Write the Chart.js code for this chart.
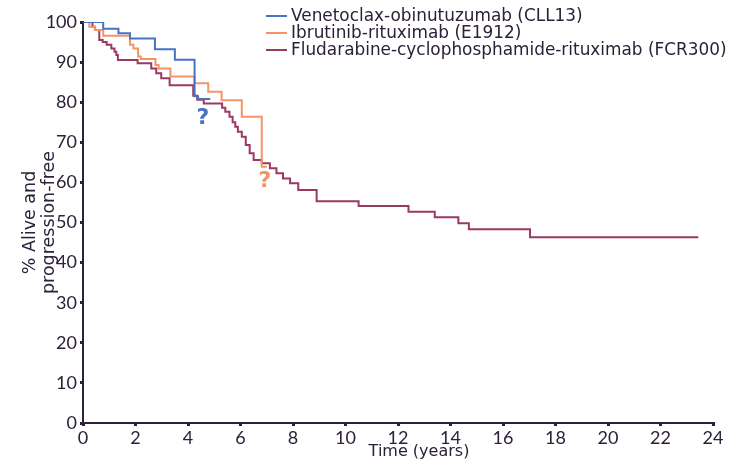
<!DOCTYPE html>
<html>
<head>
<meta charset="utf-8">
<script src="https://cdn.jsdelivr.net/npm/chart.js@4.4.1/dist/chart.umd.min.js"></script>
<style>
  html, body { margin: 0; padding: 0; background: #ffffff; }
  #wrap { width: 730px; height: 463px; position: relative; }
</style>
</head>
<body>
<div id="wrap"><canvas id="c" width="730" height="463"></canvas></div>
<script>
// ---- data ----
const seriesNames = [
  'Venetoclax-obinutuzumab (CLL13)',
  'Ibrutinib-rituximab (E1912)',
  'Fludarabine-cyclophosphamide-rituximab (FCR300)'
];
const xAxisTitle = 'Time (years)';
const yAxisTitle = ['% Alive and', 'progression-free'];

const venT = [0, 0.77, 1.35, 1.79, 2.74, 3.5, 4.25, 4.38, 4.85];
const venV = [100, 98.3, 97.2, 95.9, 93.2, 90.6, 81.5, 80.8, 80.8];

const ibrT = [0, 0.24, 0.46, 0.77, 1.79, 1.92, 2.1, 2.2, 2.76, 2.88, 3.33, 4.25, 4.77, 5.28, 6.05, 6.81, 7.0];
const ibrV = [100, 98.8, 98.0, 96.6, 94.3, 93.4, 91.4, 90.8, 89.3, 88.4, 86.4, 84.7, 82.6, 80.5, 76.4, 63.9, 63.9];

const fcrT = [0, 0.36, 0.46, 0.62, 0.75, 0.9, 1.08, 1.2, 1.27, 1.33, 2.08, 2.6, 2.79, 2.98, 3.3, 4.2, 4.35, 4.6,
              5.3, 5.42, 5.58, 5.7, 5.8, 5.9, 6.05, 6.2, 6.35, 6.5, 6.81, 7.12, 7.37, 7.62, 7.89, 8.2, 8.9,
              10.5, 12.4, 13.4, 14.3, 14.7, 17.03, 23.44];
const fcrV = [100, 98.8, 98.0, 95.5, 95.0, 94.3, 93.4, 92.6, 91.8, 90.5, 89.7, 88.4, 87.2, 86.0, 84.2, 81.6, 80.6, 79.7,
              78.6, 77.6, 76.4, 75.0, 73.9, 72.6, 71.4, 69.3, 67.3, 65.6, 64.8, 63.5, 62.3, 61.0, 59.8, 58.1, 55.3,
              54.1, 52.7, 51.3, 49.8, 48.3, 46.3, 46.3];

const xTicks = [0, 2, 4, 6, 8, 10, 12, 14, 16, 18, 20, 22, 24];
const yTicks = [0, 10, 20, 30, 40, 50, 60, 70, 80, 90, 100];

// question-mark annotations: [x (years), y (%)]
const qMarks = [
  { x: 4.57, y: 76.0, series: 0 },
  { x: 6.93, y: 60.3, series: 1 }
];

// ---- styling ----
const colors = ['#4a72c2', '#f49466', '#9a3a64'];
const ink = '#2c2138';
const TICKFONT = 'Lato, "Open Sans", sans-serif';
const TEXTFONT = '"DejaVu Sans", Lato, sans-serif';

function toPts(t, v) { return t.map((x, i) => ({ x: x, y: v[i] })); }

const overlayPlugin = {
  id: 'overlay',
  afterDraw(chart) {
    const ctx = chart.ctx;
    ctx.save();
    // legend
    ctx.font = '16.9px ' + TEXTFONT;
    ctx.textBaseline = 'middle';
    ctx.textAlign = 'left';
    const rows = [16, 33, 50];
    chart.data.datasets.forEach((ds, i) => {
      ctx.strokeStyle = ds.borderColor;
      ctx.lineWidth = 2;
      ctx.beginPath();
      ctx.moveTo(266, rows[i]);
      ctx.lineTo(287, rows[i]);
      ctx.stroke();
      ctx.fillStyle = ink;
      ctx.fillText(ds.label, 291, rows[i] + 1);
    });
    // x-axis title (offset to the right of the axis centre, as in the reference)
    ctx.font = '16px ' + TEXTFONT;
    ctx.textAlign = 'center';
    ctx.fillStyle = ink;
    ctx.fillText(xAxisTitle, 419, 452);
    // question marks
    const xs = chart.scales.x, ys = chart.scales.y;
    ctx.font = 'bold 22px ' + TEXTFONT;
    qMarks.forEach(q => {
      ctx.fillStyle = colors[q.series];
      ctx.fillText('?', xs.getPixelForValue(q.x), ys.getPixelForValue(q.y));
    });
    ctx.restore();
  }
};

new Chart(document.getElementById('c'), {
  type: 'line',
  data: {
    datasets: [
      { label: seriesNames[0], data: toPts(venT, venV), borderColor: colors[0] },
      { label: seriesNames[1], data: toPts(ibrT, ibrV), borderColor: colors[1] },
      { label: seriesNames[2], data: toPts(fcrT, fcrV), borderColor: colors[2] }
    ].map(d => Object.assign(d, { stepped: 'before', borderWidth: 2, pointRadius: 0, fill: false, tension: 0 }))
  },
  options: {
    responsive: false,
    animation: false,
    layout: { padding: { left: 0, right: 17, top: 22, bottom: 0 } },
    plugins: { legend: { display: false }, tooltip: { enabled: false } },
    scales: {
      x: {
        type: 'linear', min: 0, max: 24,
        afterBuildTicks: s => { s.ticks = xTicks.map(v => ({ value: v })); },
        afterFit: s => { s.height = 40; },
        grid: { drawOnChartArea: false, color: ink, tickLength: 3, lineWidth: 3 },
        border: { color: ink, width: 2 },
        ticks: { color: ink, font: { family: TICKFONT, size: 18 }, padding: 1, maxRotation: 0 },
        title: { display: false }
      },
      y: {
        type: 'linear', min: 0, max: 100,
        afterBuildTicks: s => { s.ticks = yTicks.map(v => ({ value: v })); },
        afterFit: s => { s.width = 83; },
        grid: { drawOnChartArea: false, color: ink, tickLength: 3, lineWidth: 3 },
        border: { color: ink, width: 2 },
        ticks: { color: ink, font: { family: TICKFONT, size: 18 }, padding: 3 },
        title: { display: true, text: yAxisTitle, color: ink, font: { family: TEXTFONT, size: 17.5, lineHeight: 1.1 }, padding: { top: 21, bottom: 0 } }
      }
    }
  },
  plugins: [overlayPlugin]
});
</script>
</body>
</html>
